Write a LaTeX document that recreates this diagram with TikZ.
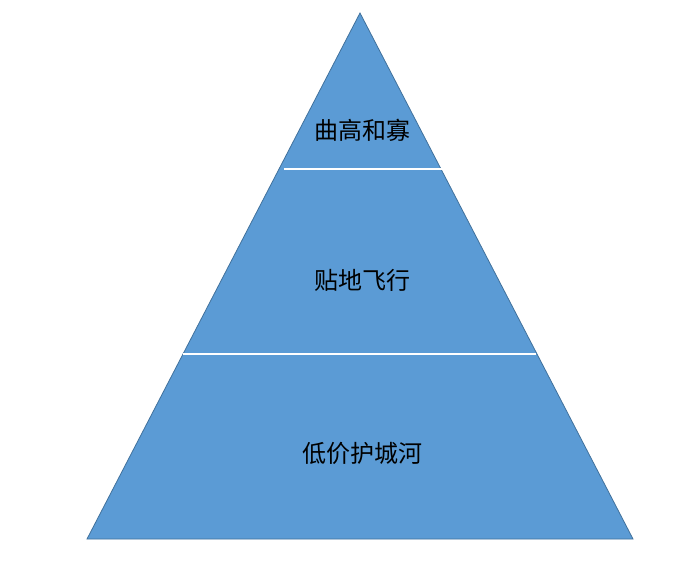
\documentclass[tikz,border=0pt]{standalone}
\usepackage{fontspec}
\newfontfamily\cjk{Noto Sans CJK SC}
\definecolor{fillblue}{HTML}{5B9BD5}
\definecolor{edgeblue}{HTML}{41719C}
\begin{document}
\begin{tikzpicture}[x=1pt,y=-1pt,
  lbl/.style={font=\cjk\fontsize{24}{28}\selectfont,text=black,inner sep=0pt},
  sep/.style={draw=white,line width=2pt}]
\useasboundingbox (0,0) rectangle (676,562);
\coordinate (apex) at (360,13);
\coordinate (bl) at (87,539);
\coordinate (br) at (633,539);
\draw[fill=fillblue,draw=edgeblue,line width=0.8pt] (apex) -- (br) -- (bl) -- cycle;
\coordinate (l1a) at (284,169); \coordinate (l1b) at (442,169);
\coordinate (l2a) at (183,354); \coordinate (l2b) at (536,354);
\draw[sep] (l1a) -- (l1b);
\draw[sep] (l2a) -- (l2b);
\node[lbl] (t1) at (362,130) {曲高和寡};
\node[lbl] (t2) at (362,280) {贴地飞行};
\node[lbl] (t3) at (362,453) {低价护城河};
\end{tikzpicture}
\end{document}
